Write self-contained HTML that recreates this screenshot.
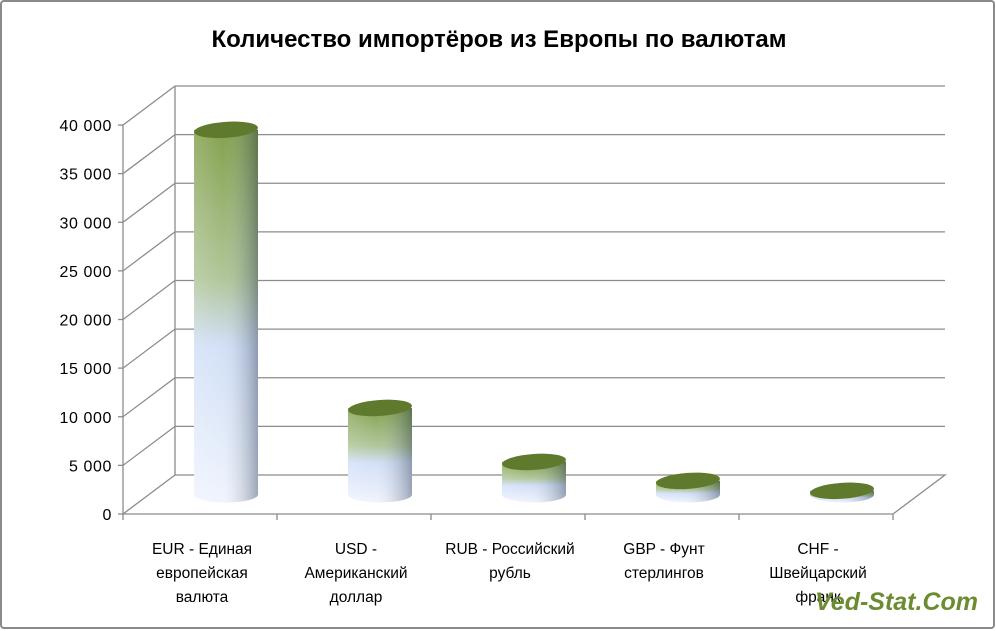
<!DOCTYPE html>
<html><head><meta charset="utf-8"><style>
html,body{margin:0;padding:0;background:#fff}
svg{display:block;font-family:"Liberation Sans","DejaVu Sans",sans-serif}
</style></head><body>
<svg id="chart" width="996" height="631" viewBox="0 0 996 631" xmlns="http://www.w3.org/2000/svg">
<defs>
<linearGradient id="vg" x1="0" y1="0" x2="0" y2="1">
<stop offset="0" stop-color="#76973a"/><stop offset="0.4" stop-color="#a8c08e"/><stop offset="0.58" stop-color="#cddcf6"/><stop offset="1" stop-color="#eef3fd"/>
</linearGradient>
<linearGradient id="hg" x1="0" y1="0" x2="1" y2="0">
<stop offset="0" stop-color="#fff" stop-opacity="0.25"/><stop offset="0.45" stop-color="#fff" stop-opacity="0.1"/><stop offset="1" stop-color="#3a4a60" stop-opacity="0.45"/>
</linearGradient>
</defs>
<rect x="1" y="1" width="993" height="627" rx="3" fill="#fff" stroke="#8a8a8a" stroke-width="2"/>
<text x="499" y="47" text-anchor="middle" font-size="24" font-weight="bold" fill="#000">Количество импортёров из Европы по валютам</text>
<g id="axes"></g>
<g id="bars"></g>
<g id="labels"></g>
<text x="978" y="610" text-anchor="end" font-size="25" font-weight="bold" font-style="italic" fill="#6c8c32">Ved-Stat.Com</text>
</svg>
<script>
const categories=[["EUR - Единая","европейская","валюта"],["USD -","Американский","доллар"],["RUB - Российский","рубль"],["GBP - Фунт","стерлингов"],["CHF -","Швейцарский","франк"]];
const values=[37500,8900,3350,1400,380];
const tickValues=[0,5000,10000,15000,20000,25000,30000,35000,40000];
const tickLabels=["0","5 000","10 000","15 000","20 000","25 000","30 000","35 000","40 000"];
const NS="http://www.w3.org/2000/svg";
const X0=123,Y0=514,CW=154,DX=52,DY=-39,PPU=(514-125)/40000;
const y=v=>Y0-v*PPU;
function mk(t,a,p){const e=document.createElementNS(NS,t);for(const k in a)e.setAttribute(k,a[k]);p.appendChild(e);return e;}
const ax=document.getElementById('axes');
const right=X0+CW*categories.length;
tickValues.forEach((v,i)=>{
  const g=mk('g',{},ax);
  
  
  mk('line',{x1:X0,y1:y(v),x2:X0+DX,y2:y(v)+DY,stroke:'#8c8c8c','stroke-width':1.3},g);
  if(v>0) mk('line',{x1:X0+DX,y1:y(v)+DY,x2:945,y2:y(v)+DY,stroke:'#8c8c8c','stroke-width':1.3},g);
  mk('line',{x1:X0-5,y1:y(v),x2:X0,y2:y(v),stroke:'#8c8c8c','stroke-width':1.3},g);
  const t=mk('text',{x:X0-11,y:y(v)+6,'text-anchor':'end','font-size':16,'letter-spacing':0.6,fill:'#000'},g);
  t.textContent=tickLabels[i];
  
  
});
mk('line',{x1:X0,y1:y(40000),x2:X0,y2:Y0,stroke:'#8c8c8c','stroke-width':1.3},ax);
mk('line',{x1:X0+DX,y1:y(40000)+DY,x2:X0+DX,y2:Y0+DY,stroke:'#8c8c8c','stroke-width':1.3},ax);
mk('polyline',{points:`${X0+DX},${Y0+DY} 945,${Y0+DY} ${right},${Y0} ${X0},${Y0}`,fill:'none',stroke:'#8c8c8c','stroke-width':1.3},ax);
for(let i=0;i<=categories.length;i++) mk('line',{x1:X0+CW*i,y1:Y0,x2:X0+CW*i,y2:Y0+6,stroke:'#8c8c8c','stroke-width':1.3},ax);
const bg=document.getElementById('bars');
const RX=32,RY=8;
values.forEach((v,i)=>{
  const cx=X0+CW*(i+0.5)+DX/2, yb=Y0+DY/2, yt=yb-v*PPU;
  const g=mk('g',{},bg);
  
  
  const d=`M${cx-RX},${yt} L${cx-RX},${yb} A${RX},${RY} 0 0 0 ${cx+RX},${yb} L${cx+RX},${yt} Z`;
  mk('path',{d:d,fill:'url(#vg)'},g);
  mk('path',{d:d,fill:'url(#hg)'},g);
  mk('ellipse',{cx:cx,cy:yt,rx:RX,ry:RY,fill:'#5f7a2c',transform:`rotate(-4 ${cx} ${yt})`},g);
});
const lg=document.getElementById('labels');
categories.forEach((lines,i)=>{
  const cx=X0+CW*(i+0.5)+2;
  const t=mk('text',{x:cx,y:554,'text-anchor':'middle','font-size':15.5,fill:'#000'},lg);
  
  
  lines.forEach((ln,j)=>{const s=mk('tspan',{x:cx,dy:j?24:0},t);s.textContent=ln;});
});
</script>
</body></html>
